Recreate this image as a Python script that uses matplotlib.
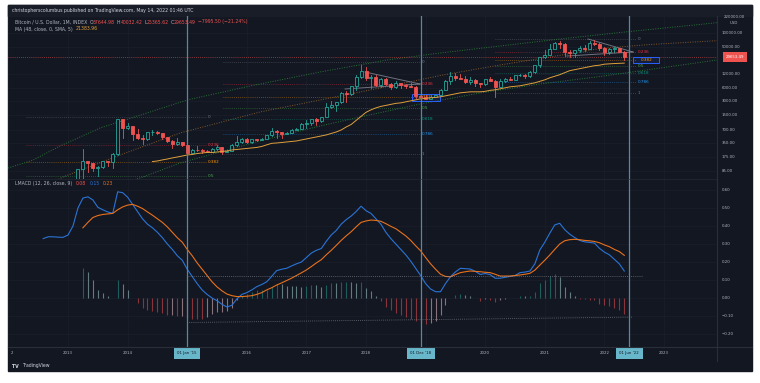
import numpy as np
import matplotlib.pyplot as plt
from matplotlib.patches import Rectangle
from matplotlib.transforms import blended_transform_factory as blend

W, H = 760, 383
BG = "#131722"
GRID = "#1a1e2b"
SEP = "#2a2e39"
TXT = "#b2b5be"
RED = "#ef5350"
GREEN = "#26a69a"
MA_COL = "#e0a03a"
BLUE = "#2a74d6"
ORANGE = "#e8711c"
MARK = "#55899b"

# ---------------- data ----------------
# monthly candles, Jan 2013 .. May 2022
opens = [13.5, 20.4, 33.4, 93, 139, 129, 97, 106, 141, 132, 206, 1205,
         754, 838, 573, 457, 448, 630, 640, 586, 478, 387, 338, 378,
         320, 217, 254, 244, 236, 230, 263, 284, 230, 236, 314, 377,
         430, 368, 437, 416, 448, 531, 673, 624, 573, 608, 700, 742,
         963, 970, 1190, 1080, 1348, 2300, 2480, 2875, 4703, 4338, 6468, 10233,
         14156, 10221, 10397, 6973, 9240, 7494, 6404, 7730, 7037, 6625, 6317, 4017,
         3742, 3457, 3854, 4105, 5350, 8574, 10817, 10085, 9630, 8293, 9199, 7569,
         7193, 9350, 8599, 6424, 8624, 9455, 9137, 11351, 11655, 10779, 13804, 19700,
         28990, 33114, 45137, 58918, 57750, 37332, 35041, 41626, 47167, 43791, 61318, 57005,
         46306, 38483, 43194, 45528, 37644.98]
highs = [20.7, 35, 95, 266, 140, 130, 111, 142, 145, 215, 1242, 1240,
         1000, 870, 713, 548, 630, 680, 650, 600, 490, 420, 460, 380,
         320, 265, 300, 262, 249, 270, 318, 287, 250, 336, 500, 466,
         462, 441, 440, 466, 551, 780, 703, 630, 620, 720, 755, 975,
         1150, 1200, 1300, 1350, 2760, 3000, 2920, 4770, 5000, 6470, 11500, 19800,
         17200, 11800, 11700, 9770, 9990, 7760, 8500, 7760, 7400, 7680, 6550, 4240,
         4100, 4200, 4120, 5640, 9100, 13880, 13200, 12320, 10900, 10370, 9510, 7750,
         9580, 10500, 9190, 9460, 10070, 10400, 11440, 12470, 12060, 14100, 19900, 29300,
         41950, 58350, 61800, 64850, 59500, 41300, 42400, 50500, 52900, 67000, 69000, 59000,
         48000, 45800, 48200, 47400, 40032.42]
lows = [13.3, 19.1, 33, 50, 79, 86, 65, 101, 108, 101, 196, 456,
        740, 420, 440, 340, 420, 550, 566, 430, 375, 275, 315, 300,
        152, 212, 235, 213, 228, 220, 253, 198, 226, 235, 310, 355,
        355, 365, 404, 412, 442, 520, 470, 470, 570, 605, 690, 740,
        750, 920, 890, 1060, 1340, 2110, 1840, 2700, 2980, 4110, 5500, 9800,
        9050, 6000, 6600, 6430, 7050, 5780, 6070, 5880, 6120, 6200, 3650, 3150,
        3380, 3380, 3740, 4090, 5340, 7500, 9080, 9330, 7720, 7300, 6540, 6420,
        6860, 8450, 3850, 6160, 8100, 8900, 8980, 10950, 9840, 10530, 13200, 17600,
        28100, 32300, 45000, 47000, 30000, 28800, 29300, 37500, 39600, 43300, 53500, 42000,
        32900, 34300, 37200, 37600, 25365.62]
closes = [20.4, 33.4, 93, 139, 129, 97, 106, 141, 132, 206, 1205, 754,
          838, 573, 457, 448, 630, 640, 586, 478, 387, 338, 378, 320,
          217, 254, 244, 236, 230, 263, 284, 230, 236, 314, 377, 430,
          368, 437, 416, 448, 531, 673, 624, 573, 608, 700, 742, 963,
          970, 1190, 1080, 1348, 2300, 2480, 2875, 4703, 4338, 6468, 10233, 14156,
          10221, 10397, 6973, 9240, 7494, 6404, 7730, 7037, 6625, 6317, 4017, 3742,
          3457, 3854, 4105, 5350, 8574, 10817, 10085, 9630, 8293, 9199, 7569, 7193,
          9350, 8599, 6424, 8624, 9455, 9137, 11351, 11655, 10779, 13804, 19700, 28990,
          33114, 45137, 58918, 57750, 37332, 35041, 41626, 47167, 43791, 61318, 57005, 46306,
          38483, 43194, 45528, 37644.98, 29653.49]
candle_start = 2013.0

# MA (48, close) from Jun 2014
ma48 = [138, 142, 150, 157, 166, 174, 183,
        193, 198, 208, 214, 220, 220, 225, 231, 237, 250, 256, 263,
        270, 277, 284, 299, 324, 351, 357, 366, 376, 386, 396, 417,
        439, 462, 486, 512, 539, 582, 627, 695, 810, 920, 1133, 1395,
        1717, 1950, 2160, 2330, 2450, 2580, 2720, 2790, 2940, 3090, 3255, 3430,
        3515, 3610, 3700, 3800, 4000, 4210, 4430, 4665, 4785, 4910, 4910, 4910,
        5040, 5300, 5445, 5730, 6030, 6350, 6515, 6685, 7035, 7405, 7795, 8420,
        9090, 10070, 10900, 11800, 13080, 14500, 15260, 16060, 16900, 17800, 18730, 19220,
        20240, 20600, 20900, 21150, 21383.96]
ma_start = 2013 + 17 / 12

# LMACD line from Aug 2012, signal from Apr 2013
macd = [0.33, 0.34, 0.34, 0.338, 0.337,
        0.35, 0.40, 0.50, 0.555, 0.562, 0.545, 0.504, 0.49, 0.478, 0.47, 0.59, 0.585,
        0.56, 0.52, 0.48, 0.44, 0.41, 0.39, 0.365, 0.335, 0.30, 0.27, 0.235, 0.21,
        0.16, 0.12, 0.08, 0.045, 0.02, 0.0, -0.015, -0.035, -0.05, -0.04, -0.005, 0.02,
        0.03, 0.045, 0.063, 0.075, 0.09, 0.12, 0.152, 0.16, 0.165, 0.178, 0.19, 0.2,
        0.225, 0.25, 0.265, 0.275, 0.315, 0.35, 0.375, 0.41, 0.435, 0.455, 0.48, 0.51,
        0.485, 0.47, 0.44, 0.41, 0.365, 0.33, 0.30, 0.27, 0.24, 0.205, 0.165, 0.125,
        0.08, 0.05, 0.035, 0.035, 0.08, 0.118, 0.145, 0.165, 0.163, 0.161, 0.148, 0.131,
        0.136, 0.13, 0.11, 0.11, 0.115, 0.12, 0.125, 0.141, 0.144, 0.15, 0.19, 0.267,
        0.31, 0.36, 0.406, 0.415, 0.38, 0.355, 0.336, 0.32, 0.312, 0.309, 0.305, 0.276,
        0.255, 0.24, 0.215, 0.19, 0.15]
macd_start = 2013 - 5 / 12
signal = [0.39, 0.42, 0.447, 0.458, 0.464, 0.467, 0.47, 0.49, 0.506,
          0.516, 0.52, 0.51, 0.497, 0.478, 0.46, 0.44, 0.42, 0.395, 0.365, 0.335, 0.31,
          0.27, 0.235, 0.195, 0.16, 0.125, 0.09, 0.062, 0.04, 0.022, 0.013, 0.008, 0.008,
          0.01, 0.013, 0.02, 0.03, 0.045, 0.057, 0.072, 0.084, 0.097, 0.11, 0.125, 0.14,
          0.156, 0.175, 0.195, 0.213, 0.24, 0.265, 0.292, 0.32, 0.345, 0.368, 0.395, 0.42,
          0.428, 0.433, 0.431, 0.426, 0.413, 0.398, 0.385, 0.365, 0.345, 0.32, 0.29, 0.262,
          0.225, 0.19, 0.16, 0.132, 0.12, 0.118, 0.13, 0.141, 0.146, 0.15, 0.148, 0.146,
          0.143, 0.141, 0.132, 0.122, 0.122, 0.122, 0.125, 0.128, 0.132, 0.137, 0.155, 0.183,
          0.21, 0.239, 0.27, 0.3, 0.318, 0.324, 0.326, 0.324, 0.32, 0.318, 0.314, 0.307,
          0.295, 0.285, 0.27, 0.258, 0.237]
signal_start = 2013 + 3 / 12

# drawings
fib_levels = [0, 0.236, 0.382, 0.5, 0.618, 0.786, 1]
fib_names = ["0", "0.236", "0.382", "0.5", "0.618", "0.786", "1"]
# (high, low, start, end, label x)
fib_sets = [(1350, 3.2, 2012.30, 2015.32, 2015.35),
            (22630, 203, 2015.60, 2018.906, 2018.94),
            (72400, 4550, 2020.164, 2022.53, 2022.565)]
fib_boxes = [None, (2018.77, 2019.24), (2022.48, 2022.92)]

green_up_x = [2011.993, 2012.413, 2012.866, 2013.537, 2014.376, 2014.997, 2016.054,
              2017.228, 2018.352, 2019.242, 2020.248, 2021.255, 2022.262, 2023.889]
green_up_y = [99, 149, 306, 769, 1746, 3228, 6617, 13560, 25070, 35890, 51360,
              73540, 102600, 169500]
brown_x = [2012.698, 2012.916, 2013.872, 2014.879, 2016.221, 2017.228, 2018.235,
           2019.292, 2020.248, 2021.087, 2021.926, 2022.765, 2023.889]
brown_y = [43.6, 62.5, 193, 595, 1747, 3228, 5973, 11630, 19410, 29240, 45170, 55470, 67420]
green_lo_x = [2014.040, 2014.258, 2014.879, 2016.221, 2017.228, 2017.899, 2018.906,
              2019.913, 2020.919, 2021.926, 2023.889]
green_lo_y = [50.9, 62.5, 128, 395, 852, 1351, 2631, 4623, 7331, 10770, 25070]
tri_lines = [([2017.983, 2018.906], [13560, 7331]),
             ([2017.648, 2018.906], [5675, 7331]),
             ([2021.725, 2022.48], [73540, 37780]),
             ([2021.372, 2022.48], [30770, 37780])]
hline_up = ([2015.0, 2022.65], [0.122, 0.122])
hline_lo = ([2015.0, 2022.48], [-0.136, -0.106])
marks = [2015.0, 2018.917, 2022.417]
mark_labels = ["01 Jan '15", "01 Dec '18", "01 Jun '22"]
last_price = 29653.49

price_ticks = [100000, 50000, 12000, 6000, 3000, 1500, 700, 350, 175, 85]
macd_ticks = [0.6, 0.5, 0.4, 0.3, 0.2, 0.1, 0.0, -0.1, -0.2]
year_ticks = [2013, 2014, 2016, 2017, 2018, 2020, 2021, 2022, 2023]

# ---------------- figure ----------------
fig = plt.figure(figsize=(W / 100, H / 100), dpi=100, facecolor="white")


def fx(x):
    return x / W


def fy(y):
    return 1 - y / H


fig.patches.append(Rectangle((fx(8), fy(371)), 744 / W, 366 / H, transform=fig.transFigure,
                             color=BG, zorder=-20))
fig.patches.append(Rectangle((fx(8), fy(16)), 744 / W, 11 / H, transform=fig.transFigure,
                             color="#191d28", zorder=-19))

ax = fig.add_axes([fx(8), fy(179), 709 / W, 163 / H])
axm = fig.add_axes([fx(8), fy(347), 709 / W, 168 / H])
for a in (ax, axm):
    a.set_facecolor("none")
    a.set_xlim(2011.993, 2023.889)
    for s in a.spines.values():
        s.set_visible(False)
    a.set_xticks([])
    a.set_yticks([])
    for yr in range(2012, 2024):
        a.axvline(yr, color=GRID, lw=0.6, zorder=0)

ax.set_yscale("log")
ax.set_ylim(56.4, 238900)
ax.minorticks_off()
ax.set_yticks([])
axm.set_ylim(-0.272, 0.661)

for p in price_ticks:
    ax.axhline(p, color=GRID, lw=0.6, zorder=0)
for v in macd_ticks:
    axm.axhline(v, color=GRID, lw=0.6, zorder=0)

# separators
fig.add_artist(plt.Line2D([fx(717), fx(717)], [fy(16), fy(361)], color=SEP, lw=0.8))
fig.add_artist(plt.Line2D([fx(8), fx(752)], [fy(347), fy(347)], color=SEP, lw=0.8))
fig.add_artist(plt.Line2D([fx(8), fx(717)], [fy(179), fy(179)], color=SEP, lw=0.4))

# axis labels
tp = blend(ax.transAxes, ax.transData)
for p in price_ticks:
    ax.text(1.007, p, f"{p:.2f}", transform=tp, color=TXT, fontsize=2.8, va="center")
tm = blend(axm.transAxes, axm.transData)
for v in macd_ticks:
    lab = f"{v:.2f}".replace("-", "\u2212")
    axm.text(1.007, v, lab, transform=tm, color=TXT, fontsize=2.8, va="center")
fig.text(fx(734), fy(17), "220000.00", color=TXT, fontsize=2.8, ha="center", va="center")
fig.text(fx(734), fy(22.5), "USD", color=TXT, fontsize=2.8, ha="center", va="center")

tx = blend(axm.transData, axm.transAxes)
for yr in year_ticks:
    axm.text(yr, -6 / 168, str(yr), transform=tx, color=TXT, fontsize=2.8,
             ha="center", va="center")
fig.text(fx(12), fy(353), "2", color=TXT, fontsize=2.8, ha="center", va="center")
for m, lab in zip(marks, mark_labels):
    axm.text(m, -6 / 168, lab, transform=tx, color=BG, fontsize=2.8, ha="center", va="center",
             bbox=dict(boxstyle="square,pad=0.9", fc="#67b6c9", ec="none"))

# fib drawings
fib_cols = ["#787b86", "#f23645", "#ff9800", "#4caf50", "#089981", "#2196f3", "#787b86"]
ylo, yhi = ax.get_ylim()
for (hi, lo, x0, x1, xl), box in zip(fib_sets, fib_boxes):
    lh, ll = np.log10(hi), np.log10(lo)
    for lev, name, col in zip(fib_levels, fib_names, fib_cols):
        p = 10 ** (lh - lev * (lh - ll))
        if p < ylo * 1.05:
            continue
        ax.plot([x0, x1], [p, p], color=col, lw=0.6, alpha=0.5, ls=(0, (1, 1.5)))
        if box is not None and name == "0.382":
            ax.add_patch(Rectangle((box[0], p / 1.19), box[1] - box[0], p * 1.19 - p / 1.19,
                                   fc=(0.16, 0.38, 1, 0.12), ec="#2962ff", lw=0.7, zorder=4))
            ax.text((box[0] + box[1]) / 2, p, name, color=col, fontsize=3.0,
                    ha="center", va="center", zorder=5)
        else:
            ax.text(xl, p, name, color=col, fontsize=3.0, ha="left", va="center")

# curves and trend lines
ax.plot(green_up_x, green_up_y, color="#2e8b3a", lw=0.7, alpha=0.8, ls=(0, (1, 1.5)))
ax.plot(brown_x, brown_y, color="#9a6a32", lw=0.7, alpha=0.8, ls=(0, (1, 1.5)))
ax.plot(green_lo_x, green_lo_y, color="#2e8b3a", lw=0.7, alpha=0.8, ls=(0, (1, 1.5)))
for xs_, ys_ in tri_lines:
    ax.plot(xs_, ys_, color="#9598a1", lw=0.7, alpha=0.7)

# current price line
ax.axhline(last_price, color=RED, lw=0.6, alpha=0.7, ls=(0, (1, 1.5)))
ax.text(1.0 + 18 / 709, last_price, f"{last_price:.2f}", transform=tp, color="white",
        fontsize=2.8, ha="center", va="center",
        bbox=dict(boxstyle="square,pad=0.8", fc=RED, ec="none"))

# candles
cw = 3 / 59.6
for i, (o, h, l, c) in enumerate(zip(opens, highs, lows, closes)):
    x = candle_start + i / 12
    up = c >= o
    col = GREEN if up else RED
    lo_b, hi_b = min(o, c), max(o, c)
    ax.plot([x, x], [l, lo_b], color=col, lw=0.6, zorder=6)
    ax.plot([x, x], [hi_b, h], color=col, lw=0.6, zorder=6)
    ax.add_patch(Rectangle((x - cw / 2, lo_b), cw, hi_b - lo_b,
                           fc=BG if up else col, ec=col, lw=0.6, zorder=7))

# moving average
ma_x = ma_start + np.arange(len(ma48)) / 12
ax.plot(ma_x, ma48, color=MA_COL, lw=0.7, zorder=8)

# MACD pane
mx = macd_start + np.arange(len(macd)) / 12
sx = signal_start + np.arange(len(signal)) / 12
off = len(macd) - len(signal)
hist = [m - s for m, s in zip(macd[off:], signal)]
cols = []
prev = 0.0
for hv in hist:
    if hv >= 0:
        cols.append("#26a69a" if hv >= prev else "#b2dfdb")
    else:
        cols.append("#ffcdd2" if hv > prev else "#ff5252")
    prev = hv
axm.vlines(sx, 0, hist, colors=cols, lw=0.8, alpha=0.5)
axm.plot(mx, macd, color=BLUE, lw=0.8)
axm.plot(sx, signal, color=ORANGE, lw=0.8)
axm.plot(*hline_up, color="#9598a1", lw=0.6, alpha=0.7, ls=(0, (1, 1.5)))
axm.plot(*hline_lo, color="#9598a1", lw=0.6, alpha=0.7, ls=(0, (1, 1.5)))

# event markers
for m in marks:
    ax.axvline(m, color=MARK, lw=0.9, zorder=9)
    axm.axvline(m, color=MARK, lw=0.9, zorder=9)

# legends / header
renderer = fig.canvas.get_renderer()


def seq_text(x, y, parts, size=3.3, weight="normal"):
    for s, c, gap in parts:
        t = fig.text(fx(x), fy(y), s, color=c, fontsize=size, ha="left", va="center",
                     fontweight=weight)
        x += t.get_window_extent(renderer=renderer).width + gap


seq_text(12, 10.5, [("christopherscolumbus published on TradingView.com, May 14, 2022 01:46 UTC",
                     "#d1d4dc", 0)])
seq_text(15, 22, [("Bitcoin / U.S. Dollar, 1M, INDEX", TXT, 2), ("O", TXT, 0), ("37644.98", RED, 2),
                  ("H", TXT, 0), ("40032.42", RED, 2), ("L", TXT, 0), ("25365.62", RED, 2),
                  ("C", TXT, 0), ("29653.49", RED, 2), ("\u22127995.50 (\u221221.24%)", RED, 0)])
seq_text(15, 29, [("MA (48, close, 0, SMA, 5)", TXT, 3), ("21383.96", MA_COL, 0)])
seq_text(15, 184, [("LMACD (12, 26, close, 9)", TXT, 4), ("0.08", RED, 3), ("0.15", BLUE, 3),
                   ("0.23", ORANGE, 0)])
seq_text(12, 366, [("TV", "#d1d4dc", 2)], weight="bold")
seq_text(22, 366, [("TradingView", "#d1d4dc", 0)])

fig.savefig("out.png", dpi=100, facecolor="white")
